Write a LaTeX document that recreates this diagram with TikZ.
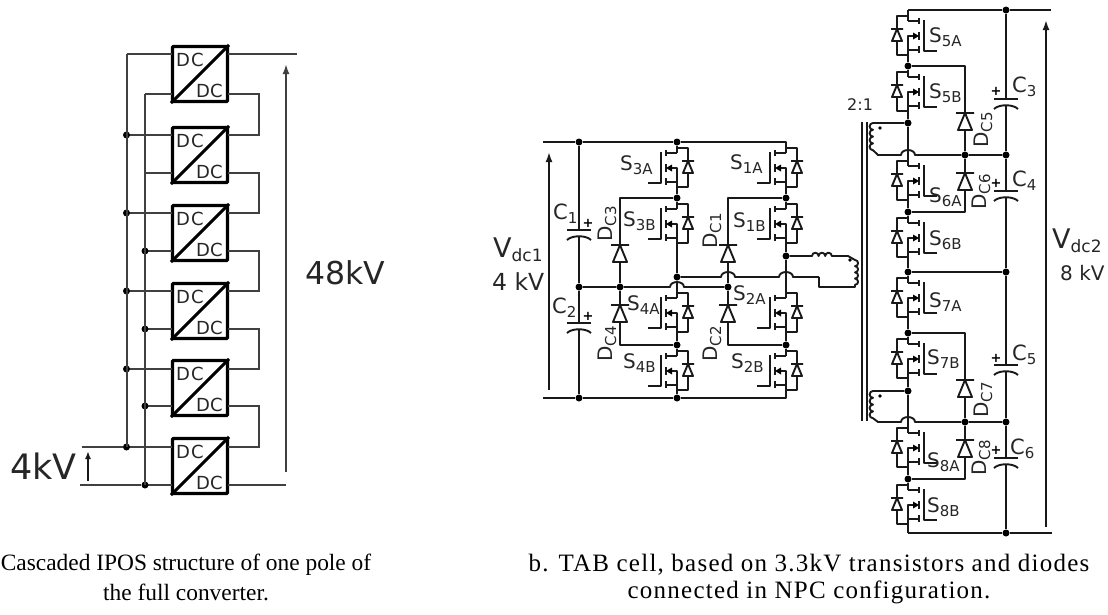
\documentclass[tikz,border=0pt]{standalone}
\usepackage{fontspec}
\setsansfont{DejaVu Sans}
\newfontfamily\capfont{Liberation Serif}
\newfontfamily\capwide[LetterSpace=5]{Liberation Serif}
\usetikzlibrary{arrows.meta}

% letter with a lowered index: sizes, letter, index
\newcommand{\idx}[4]{{\fontsize{#1}{#1}\selectfont #3}\raisebox{-4pt}{\fontsize{#2}{#2}\selectfont #4}}
% wire with a bump over a crossing wire
\newcommand{\hopto}[2]{-- (#1-7,#2) arc[start angle=180,end angle=360,x radius=7,y radius=5]}

\begin{document}
\begin{tikzpicture}[font=\sffamily, x=1pt, y=-1pt, >={Latex[length=10pt,width=7pt]}]

        % Setup the styles
        \tikzset{wire/.style={line width=1.9pt, draw=black!90, line join=round},
                 thin wire/.style={line width=2pt, draw=black!75},
                 dot/.style={circle, fill=black, inner sep=0pt, minimum size=7pt},
                 conv/.style={draw=black, line width=3.2pt, rounded corners=1pt,
                              minimum width=55pt, minimum height=55pt, inner sep=0pt},
                 lbl/.style={anchor=base west, inner sep=0pt, text=black!85},
                 vlbl/.style={lbl, rotate=90},
                 caption/.style={inner sep=0pt, text=black},
                 pics/mosfet/.style={code={
                    \coordinate (-d) at (0,11);
                    \coordinate (-s) at (0,40);
                    \draw[wire] (-29,41) -- (-16,41) -- (-16,10);
                    \draw[wire] (-11,8) -- (-11,14) (-11,22) -- (-11,30) (-11,36) -- (-11,43);
                    \draw[wire] (-11,11) -- (0,11);
                    \draw[wire] (-11,40) -- (0,40) -- (0,26) -- (-6,26);
                    \fill[black] (-11,26) -- (-5,22.5) -- (-5,29.5) -- cycle;
                    \draw[wire] (0,6) -- (11,6) -- (11,19) (11,31) -- (11,45) -- (0,45);
                    \draw[wire] (5,19) -- (17,19) (11,19) -- (6,31) -- (16,31) -- cycle;}},
                 pics/dio/.style={code={
                    \coordinate (-k) at (0,0);
                    \coordinate (-a) at (0,17);
                    \draw[wire] (-9,0) -- (9,0) (0,0) -- (-7,17) -- (7,17) -- cycle;}},
                 pics/capa/.style={code={
                    \coordinate (-a) at (0,0);
                    \coordinate (-b) at (0,6);
                    \draw[wire] (-12,0) -- (12,0);
                    \draw[wire] (-12,10) .. controls (-7,5) and (7,5) .. (12,10);}}}

        \useasboundingbox (0,0) rectangle (1108,614);

        % Draw the converter boxes
        \foreach \n/\t/\ua/\ub in {1/46/54/94, 2/127/135/173, 3/205/213/251,
                                   4/283/291/329, 5/360/369/406, 6/438/447/485} {
            \node[conv] (b\n) at (200,\t+28) {};
            \draw[line width=3pt, draw=black] (b\n.south west) -- (b\n.north east);
            \node[lbl, font=\sffamily\fontsize{18}{18}\selectfont] (dct\n) at (176,\t+20) {D\kern1pt C};
            \node[lbl, font=\sffamily\fontsize{18}{18}\selectfont] (dcb\n) at (196,\t+51) {DC};
            \coordinate (bi\n) at (172,\ua);
            \coordinate (bo\n) at (172,\ub);
            \coordinate (ci\n) at (228,\ua);
            \coordinate (co\n) at (228,\ub);
            \coordinate (ua\n) at (126.5,\ua);
            \coordinate (ub\n) at (145,\ub);
            \draw[thin wire] (ua\n) -- (bi\n) (ub\n) -- (bo\n);
        }
        \foreach \n in {2,...,6} \node[dot] (da\n) at (ua\n) {};
        \foreach \n in {3,...,6} \node[dot] (db\n) at (ub\n) {};

        % Buses and links of the cascade
        \draw[thin wire] (ua1) -- (ua6) (ub1) -- (ub6);
        \foreach \n/\m in {1/2, 2/3, 3/4, 4/5, 5/6}
            \draw[thin wire] (co\n) -- ++(31,0) |- (ci\m);
        \coordinate (outt) at (297,54);
        \coordinate (outb) at (286,485);
        \coordinate (int) at (82,447);
        \coordinate (inb) at (80,485);
        \draw[thin wire] (ci1) -- (outt) (co6) -- (outb) (int) -- (da6) (inb) -- (db6);
        \coordinate (vb) at (286,472);
        \coordinate (vt) at (286,64);
        \coordinate (vib) at (88,481);
        \coordinate (vit) at (88,451);
        \draw[thin wire, ->] (vb) -- (vt);
        \draw[wire, ->, >={Latex[length=8pt,width=6pt]}] (vib) -- (vit);
        \node[lbl, font=\sffamily\fontsize{31.5}{31.5}\selectfont] (l48) at (305,284) {48kV};
        \node[lbl, font=\sffamily\fontsize{35}{35}\selectfont] (l4) at (10,479) {4kV};

        % Draw the junctions
        \foreach \name/\xx/\yy in {ct/579/142, j3t/677/142, j3m/677/198, j1m/786/198,
                                   j1o/786/256, j3o/677/277, cm/579/287, d3b/620/287,
                                   d1b/728/287, j4m/677/345, j2m/786/345, cb/579/398,
                                   j4b/677/398,
                                   jc3t/1006/10, j5m/908/66, j5o/908/123, jd6/965/155,
                                   jc4t/1006/155, j6m/908/212, j6o/908/272, jc5t/1006/272,
                                   j7m/908/333, j7o/908/391, jd8/965/422, jc6t/1006/422,
                                   j8m/908/479, jc6b/1006/533}
            \node[dot] (\name) at (\xx,\yy) {};

        % Draw the switches
        \foreach \name/\xx/\yy in {s3a/677/142, s3b/677/198, s4a/677/287, s4b/677/345,
                                   s1a/786/142, s1b/786/198, s2a/786/287, s2b/786/345}
            \pic (\name) at (\xx,\yy) {mosfet};
        \foreach \name/\yy in {s5a/10, s5b/66, s6a/155, s6b/212, s7a/272, s7b/333, s8a/422, s8b/479}
            \pic[xscale=-1] (\name) at (908,\yy) {mosfet};

        % Draw the diodes and capacitors
        \foreach \name/\xx/\yy in {dc3/620/245, dc4/620/305, dc1/728/245, dc2/728/305,
                                   dc5/965/113, dc6/965/173, dc7/965/380, dc8/965/440}
            \pic (\name) at (\xx,\yy) {dio};
        \foreach \name/\xx/\yy in {c1/579/230, c2/579/323, c3/1006/99, c4/1006/191,
                                   c5/1006/365, c6/1006/458}
            \pic (\name) at (\xx,\yy) {capa};

        % Connect the bridge
        \coordinate (bt) at (543,142);
        \coordinate (j1t) at (786,142);
        \coordinate (bb) at (543,398);
        \coordinate (j2b) at (786,398);
        \draw[wire] (bt) -- (ct) -- (j3t) -- (j1t) -- (s1a-d);
        \draw[wire] (bb) -- (cb) -- (j4b) -- (j2b) -- (s2b-s);
        \draw[wire] (j3t) -- (s3a-d) (s3a-s) -- (j3m) -- (s3b-d) (s3b-s) -- (j3o) -- (s4a-d)
                    (s4a-s) -- (j4m) -- (s4b-d) (s4b-s) -- (j4b);
        \draw[wire] (s1a-s) -- (j1m) -- (s1b-d) (s1b-s) -- (j1o) -- (s2a-d)
                    (s2a-s) -- (j2m) -- (s2b-d);
        \draw[wire] (j3m) -| (dc3-k) (dc3-a) -- (d3b) -- (dc4-k) (dc4-a) |- (j4m);
        \draw[wire] (j1m) -| (dc1-k) (dc1-a) -- (d1b) -- (dc2-k) (dc2-a) |- (j2m);
        \draw[wire] (ct) -- (c1-a) (c1-b) -- (cm) -- (c2-a) (c2-b) -- (cb);
        \draw[wire] (cm) -- (d3b) \hopto{677}{287} -- (d1b);

        % Connect the primary
        \coordinate (la) at (812,256);
        \coordinate (lb) at (848,256);
        \coordinate (pe) at (855,260);
        \coordinate (pc) at (855,287);
        \coordinate (pb) at (819,287);
        \coordinate (pa) at (819,277);
        \draw[wire] (j1o) -- (la) \foreach \k in {1,2,3} {arc[start angle=180,end angle=360,radius=3.3]}
                    -- (lb) -- (pe) \foreach \k in {1,2,3,4} {arc[start angle=-90,end angle=90,radius=3.1]}
                    -- (pc) -- (pb) -- (pa);
        \draw[wire] (j3o) \hopto{728}{277} \hopto{786}{277} -- (pa);
        \fill[black] (850,260) circle (1.8pt);

        % Draw the core
        \coordinate (cra) at (862,122);
        \coordinate (crb) at (862,421);
        \coordinate (crc) at (867,122);
        \coordinate (crd) at (867,421);
        \draw[line width=2.4pt, draw=black!90] (cra) -- (crb) (crc) -- (crd);

        % Connect the secondary
        \coordinate (rt) at (908,10);
        \coordinate (rte) at (1051,10);
        \coordinate (rb) at (908,533);
        \coordinate (rbe) at (1052,533);
        \draw[wire] (rt) -- (jc3t) -- (rte) (rt) -- (s5a-d);
        \draw[wire] (rb) -- (jc6b) -- (rbe) (rb) -- (s8b-s);
        \draw[wire] (s5a-s) -- (j5m) -- (s5b-d) (s5b-s) -- (j5o) -- (s6a-d)
                    (s6a-s) -- (j6m) -- (s6b-d) (s6b-s) -- (j6o) -- (s7a-d)
                    (s7a-s) -- (j7m) -- (s7b-d) (s7b-s) -- (j7o) -- (s8a-d)
                    (s8a-s) -- (j8m) -- (s8b-d);
        \draw[wire] (j5m) -| (dc5-k) (dc5-a) -- (jd6) -- (dc6-k) (dc6-a) |- (j6m);
        \draw[wire] (j7m) -| (dc7-k) (dc7-a) -- (jd8) -- (dc8-k) (dc8-a) |- (j8m);
        \draw[wire] (jc3t) -- (c3-a) (c3-b) -- (jc4t) -- (c4-a) (c4-b) -- (jc5t) -- (c5-a)
                    (c5-b) -- (jc6t) -- (c6-a) (c6-b) -- (jc6b);
        \draw[wire] (j6o) -- (jc5t);
        \foreach \top/\bot/\jd/\jc/\yy in {j5o/123/jd6/jc4t/155, j7o/391/jd8/jc6t/422} {
            \coordinate (sa\top) at (873,\bot);
            \coordinate (sb\top) at (878,\yy);
            \draw[wire] (\top) -- (sa\top) \foreach \k in {1,2,3,4} {arc[start angle=270,end angle=90,radius=3.4]}
                        -- (sb\top) \hopto{908}{\yy} -- (\jd) -- (\jc);
            \fill[black] (880,\bot+5) circle (1.8pt);
        }

        % Voltage arrows
        \coordinate (vab) at (549,390);
        \coordinate (vat) at (549,152);
        \coordinate (vcb) at (1046,527);
        \coordinate (vct) at (1046,20);
        \draw[wire, ->] (vab) -- (vat);
        \draw[wire, ->] (vcb) -- (vct);

        % Write the labels
        \foreach \name/\xx/\yy/\txt in {3A/620/170/3A, 3B/623/226/3B, 1A/730/169/1A, 1B/733/227/1B,
                                        4A/627/310/4A, 4B/623/368/4B, 2A/733/300/2A, 2B/731/368/2B,
                                        5A/929/42/5A, 5B/929/98/5B, 6A/929/202/6A, 6B/929/245/6B,
                                        7A/929/307/7A, 7B/927/364/7B, 8A/927/467/8A, 8B/927/512/8B}
            \node[lbl] (lS\name) at (\xx,\yy) {\idx{20}{15}{S}{\txt}};
        \foreach \name/\xx/\yy in {C3/612/242, C4/612/362, C1/717/249, C2/717/362,
                                   C5/988/148, C6/986/210, C7/988/418, C8/986/476}
            \node[vlbl] (lD\name) at (\xx,\yy) {\idx{20}{15}{D}{\name}};
        \foreach \name/\xx/\yy in {1/553/219, 2/552/313, 3/1012/92, 4/1012/186, 5/1012/360, 6/1010/454}
            \node[lbl] (lC\name) at (\xx,\yy) {\idx{21}{15}{C}{\name}};
        \foreach \name/\xx/\yy in {1/588/223, 2/588/316, 3/996/91, 4/996/183, 5/996/358, 6/996/450}
            \node[inner sep=0pt, text=black, font=\sffamily\bfseries\fontsize{13}{13}\selectfont] (pl\name) at (\xx,\yy) {+};
        \node[lbl] (lva) at (493,257) {\idx{27}{17}{V}{dc1}};
        \node[lbl, font=\sffamily\fontsize{23.5}{23.5}\selectfont] (lvk) at (492,290) {4 kV};
        \node[lbl] (lvc) at (1052,248) {\idx{27}{17}{V}{dc2}};
        \node[lbl, font=\sffamily\fontsize{20}{20}\selectfont] (lvd) at (1060,280) {8 kV};
        \node[lbl, font=\sffamily\fontsize{16}{16}\selectfont] (lrat) at (847,110) {2:1};

        % Write the captions
        \node[caption, font=\capfont\fontsize{23.4}{23.4}\selectfont] (capa1) at (186,565) {Cascaded IPOS structure of one pole of};
        \node[caption, font=\capfont\fontsize{23.4}{23.4}\selectfont] (capa2) at (186,592) {the full converter.};
        \node[caption, font=\capwide\fontsize{25}{25}\selectfont] (capb1) at (809,565) {b. TAB cell, based on 3.3kV transistors and diodes};
        \node[caption, font=\capwide\fontsize{25}{25}\selectfont] (capb2) at (809,592) {connected in NPC configuration.};
\end{tikzpicture}
\end{document}
